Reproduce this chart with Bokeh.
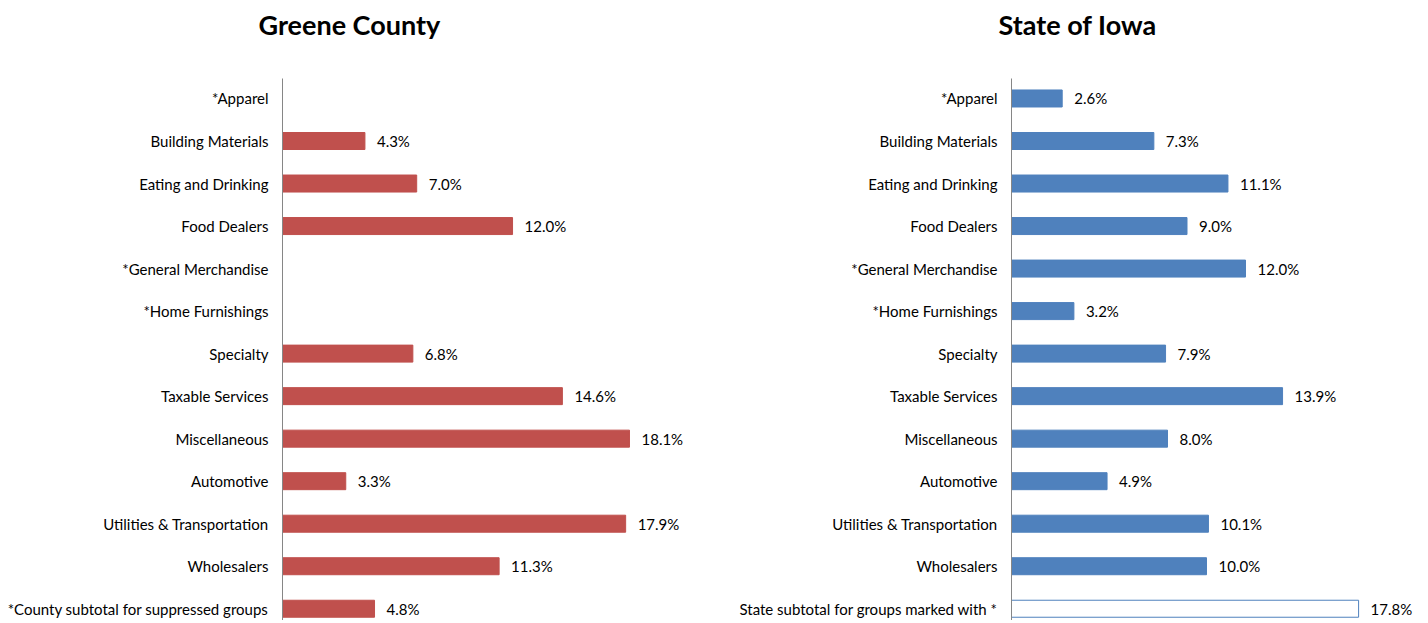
import math
from bokeh.plotting import figure
from bokeh.models import ColumnDataSource, FixedTicker, Range1d
from bokeh.layouts import row
from bokeh.embed import file_html
from bokeh.resources import INLINE
from bokeh.core.properties import value

# ---------------- data ----------------
county_title = "Greene County"
state_title = "State of Iowa"

county_categories = [
    "*Apparel", "Building Materials", "Eating and Drinking", "Food Dealers",
    "*General Merchandise", "*Home Furnishings", "Specialty", "Taxable Services",
    "Miscellaneous", "Automotive", "Utilities & Transportation", "Wholesalers",
    "*County subtotal for suppressed groups",
]
state_categories = [
    "*Apparel", "Building Materials", "Eating and Drinking", "Food Dealers",
    "*General Merchandise", "*Home Furnishings", "Specialty", "Taxable Services",
    "Miscellaneous", "Automotive", "Utilities & Transportation", "Wholesalers",
    "State subtotal for groups marked with *",
]
county_values = [None, 4.3, 7.0, 12.0, None, None, 6.8, 14.6, 18.1, 3.3, 17.9, 11.3, 4.8]
state_values = [2.6, 7.3, 11.1, 9.0, 12.0, 3.2, 7.9, 13.9, 8.0, 4.9, 10.1, 10.0, 17.8]

FONT = "Lato"
RED = "#C0504D"
BLUE = "#4F81BD"
HEIGHT = 620


def make_panel(title, cats, vals, color, width, x_end, outline_last, title_offset):
    n = len(cats)
    p = figure(
        width=width, height=HEIGHT,
        output_backend="svg", toolbar_location=None,
        x_range=Range1d(0, x_end), y_range=Range1d(-0.47 + (HEIGHT - 77) / 42.6, -0.47),
        x_axis_location=None,
        min_border_left=282, min_border_right=0, min_border_top=77, min_border_bottom=0,
        title=title + "\n",
    )
    p.outline_line_color = None
    p.grid.visible = False
    p.background_fill_color = "white"
    p.border_fill_color = "white"

    p.title.text_font = FONT
    p.title.text_font_size = "27px"
    p.title.text_font_style = "bold"
    p.title.text_color = "#000000"
    p.title.align = "left"
    p.title.offset = title_offset
    p.title.standoff = 10

    idx = [i for i in range(n) if vals[i] is not None]
    solid = [i for i in idx if not (outline_last and i == n - 1)]
    hollow = [i for i in idx if (outline_last and i == n - 1)]

    src = ColumnDataSource(dict(y=solid, v=[vals[i] for i in solid]))
    p.hbar(y="y", right="v", left=0, height=0.4, source=src,
           fill_color=color, line_color=color, line_width=1)
    if hollow:
        src2 = ColumnDataSource(dict(y=hollow, v=[vals[i] for i in hollow]))
        p.hbar(y="y", right="v", left=0, height=0.4, source=src2,
               fill_color="white", line_color=color, line_width=1)

    lab = ColumnDataSource(dict(
        y=idx, x=[vals[i] for i in idx], t=[f"{vals[i]:.1f}%" for i in idx]))
    p.text(x="x", y="y", text="t", source=lab, x_offset=12,
           text_baseline="middle", text_align="left",
           text_font=value(FONT), text_font_size="15px", text_color="#000000")

    ax = p.yaxis[0]
    ax.ticker = FixedTicker(ticks=list(range(n)))
    ax.major_label_overrides = {i: c for i, c in enumerate(cats)}
    ax.major_tick_line_color = None
    ax.minor_tick_line_color = None
    ax.major_tick_out = 0
    ax.major_tick_in = 0
    ax.major_label_standoff = 14
    ax.axis_line_color = "#868686"
    ax.major_label_text_font = FONT
    ax.major_label_text_font_size = "15px"
    ax.major_label_text_color = "#000000"
    return p


left = make_panel(county_title, county_categories, county_values, RED, 690, 408 / 19.17, False, -24)
right = make_panel(state_title, state_categories, state_values, BLUE, 695, 413 / 19.5, True, -13)

layout = row(left, right, spacing=39)
open("out.html", "w").write(file_html(layout, INLINE))
